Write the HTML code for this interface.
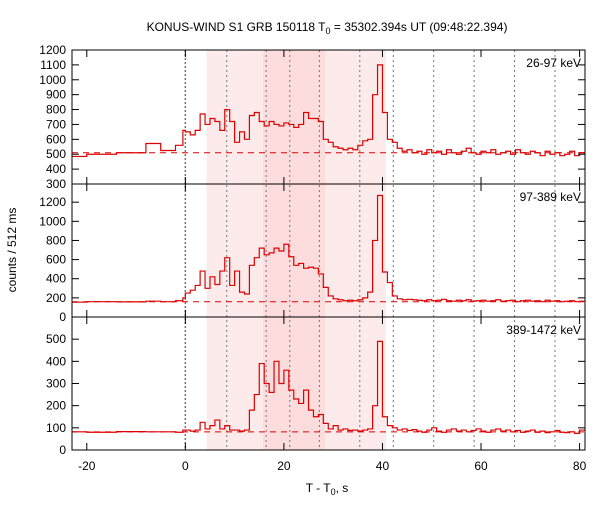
<!DOCTYPE html>
<html><head><meta charset="utf-8"><style>
body{margin:0;background:#fff;}
svg text{font-family:"Liberation Sans","DejaVu Sans",sans-serif;font-size:12px;fill:#000;}
</style></head><body>
<svg id="chart" width="600" height="500" xmlns="http://www.w3.org/2000/svg">
<text x="327" y="31" text-anchor="middle">KONUS-WIND S1 GRB 150118 T<tspan font-size="9" dy="3">0</tspan><tspan dy="-3"> = 35302.394s UT (09:48:22.394)</tspan></text>
<text transform="translate(16,250) rotate(-90)" text-anchor="middle">counts / 512 ms</text>
<text x="327" y="492" text-anchor="middle">T - T<tspan font-size="9" dy="3">0</tspan><tspan dy="-3">, s</tspan></text>
</svg>
<script>
const xTicks=[-20,0,20,40,60,80];
const vLines=[0,8.4,16.4,21.2,27.2,35.4,42.2,50.4,58.6,66.8,75.0];
const lightBand=[4.3,40.7];
const darkBand=[15.8,28.3];
const panelLabels=["26-97 keV","97-389 keV","389-1472 keV"];
const preEdges=[-23,-20,-14,-8,-5,-2,-0.5,0];
const prePanel1=[485,500,510,572,525,560,660];
const prePanel2=[155,160,158,165,160,170,200];
const prePanel3=[82,80,83,82,82,80,90];
const panel1=[650,630,660,770,700,740,720,660,800,720,580,650,600,760,780,720,690,720,700,690,710,700,680,700,780,740,740,720,600,580,550,540,530,540,530,560,590,600,900,1100,780,600,580,540,520,530,510,520,500,530,510,520,500,530,510,500,520,540,510,500,520,510,530,500,510,520,500,530,510,500,520,510,490,520,500,510,490,500,520,490,510];
const panel2=[250,280,330,480,300,420,340,480,620,330,480,260,240,540,620,720,650,670,720,690,760,630,540,560,510,520,510,450,310,220,190,180,170,175,170,180,200,260,800,1270,470,360,220,190,180,185,180,175,170,180,170,175,185,170,165,175,170,180,165,170,175,165,170,180,165,170,175,160,170,175,165,170,160,175,165,170,160,165,170,160,165];
const panel3=[90,85,90,125,95,110,135,95,110,90,90,85,90,180,250,390,300,260,400,300,360,270,230,210,270,180,150,160,120,95,110,90,95,88,90,85,90,95,200,490,150,110,100,90,95,88,92,85,80,90,100,85,80,90,95,85,90,82,88,95,85,80,90,95,85,90,82,88,80,85,90,80,85,78,82,88,80,78,82,75,90];
const baselines=[510,160,82];
const yRanges=[[300,1200],[0,1390],[0,600]];
const yTicks1=[300,400,500,600,700,800,900,1000,1100,1200];
const yTicks2=[0,200,400,600,800,1000,1200];
const yTicks3=[0,100,200,300,400,500];

const NS="http://www.w3.org/2000/svg";
const svg=document.getElementById('chart');
const L=72,R=585,X0=-23,X1=81.1;
const panelsY=[[50,184],[184,317],[317,450]];
const xs=t=>L+(t-X0)/(X1-X0)*(R-L);
function mk(tag,attrs,parent){const e=document.createElementNS(NS,tag);for(const k in attrs)e.setAttribute(k,attrs[k]);(parent||svg).appendChild(e);return e;}

let b=mk('rect',{x:xs(lightBand[0]),y:50,width:xs(lightBand[1])-xs(lightBand[0]),height:400,fill:'#fdeaea'});


b=mk('rect',{x:xs(darkBand[0]),y:50,width:xs(darkBand[1])-xs(darkBand[0]),height:400,fill:'#fcdcdc'});


vLines.forEach((v,i)=>{const l=mk('line',{x1:xs(v),x2:xs(v),y1:50,y2:450,stroke:'#777','stroke-width':i==0?1.5:1,'stroke-dasharray':i==0?'2,2':'2,3'});

});

const pres=[prePanel1,prePanel2,prePanel3],posts=[panel1,panel2,panel3],yt=[yTicks1,yTicks2,yTicks3];
for(let p=0;p<3;p++){
 const [top,bot]=panelsY[p],[v0,v1]=yRanges[p];
 const ys=v=>bot-(v-v0)/(v1-v0)*(bot-top);
 const g=mk('g',{});
 
 
 const bl=mk('line',{x1:L,x2:R,y1:ys(baselines[p]),y2:ys(baselines[p]),stroke:'#d00','stroke-width':1,'stroke-dasharray':'6,5'},g);
 
 
 let d='';
 const pre=pres[p];
 for(let i=0;i<pre.length;i++){const y=ys(pre[i]);d+=(i==0?'M':'L')+xs(preEdges[i])+','+y+'L'+xs(preEdges[i+1])+','+y;}
 const post=posts[p];
 for(let i=0;i<post.length;i++){const y=ys(post[i]);const xe=Math.min(xs(i+1),R);d+='L'+xs(i)+','+y+'L'+xe+','+y;}
 const path=mk('path',{d:d,fill:'none',stroke:'#d00','stroke-width':1.2},g);
 
 
 mk('rect',{x:L,y:top,width:R-L,height:bot-top,fill:'none',stroke:'#000','stroke-width':1},g);
 yt[p].forEach(v=>{const y=ys(v);
  mk('line',{x1:L,x2:L+7,y1:y,y2:y,stroke:'#000'},g);
  mk('line',{x1:R,x2:R-7,y1:y,y2:y,stroke:'#000'},g);
  const t=mk('text',{x:L-6,y:y+4,'text-anchor':'end'},g);t.textContent=v;
  
  });
 xTicks.forEach(v=>{const x=xs(v);
  mk('line',{x1:x,x2:x,y1:top,y2:top+7,stroke:'#000'},g);
  mk('line',{x1:x,x2:x,y1:bot,y2:bot-7,stroke:'#000'},g);});
 const lt=mk('text',{x:R-4,y:top+17,'text-anchor':'end'},g);lt.textContent=panelLabels[p];
 
 
}
xTicks.forEach(v=>{const t=mk('text',{x:xs(v),y:470,'text-anchor':'middle'});t.textContent=v;
 
 });
</script>
</body></html>
